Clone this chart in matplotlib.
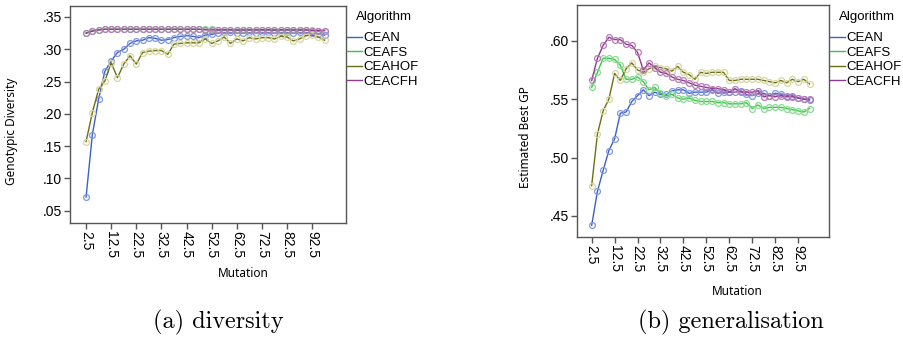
import numpy as np
import matplotlib
matplotlib.use("Agg")
import matplotlib.pyplot as plt

mutation = np.arange(2.5, 100, 2.5)  # 2.5 ... 97.5
algorithms = ["CEAN", "CEAFS", "CEAHOF", "CEACFH"]

# (a) genotypic diversity
div_cean = [.071, .168, .223, .266, .282, .295, .300, .309, .313, .314,
            .318, .317, .314, .315, .318, .320, .321, .320, .318, .322,
            .323, .325, .326, .326, .325, .325, .326, .325, .326, .326,
            .325, .326, .326, .325, .326, .326, .325, .324, .322]
div_ceafs = [.325, .329, .330, .331, .331, .331, .331, .331, .331, .331,
             .331, .331, .331, .331, .331, .331, .331, .331, .331, .331,
             .331, .330, .330, .330, .330, .330, .330, .330, .330, .330,
             .330, .330, .330, .330, .330, .330, .330, .329, .329]
div_ceahof = [.157, .202, .238, .251, .279, .256, .277, .290, .277, .295,
              .297, .298, .298, .292, .308, .309, .310, .310, .310, .316,
              .309, .313, .319, .309, .316, .313, .318, .316, .318, .318,
              .316, .320, .319, .313, .316, .321, .322, .319, .314]
div_ceacfh = [.325, .328, .330, .331, .331, .331, .331, .331, .331, .331,
              .331, .331, .331, .331, .331, .331, .331, .331, .331, .330,
              .330, .330, .330, .330, .330, .330, .330, .330, .330, .330,
              .330, .330, .330, .330, .330, .330, .329, .329, .329]

# (b) estimated best generalisation performance
gen_cean = [.442, .471, .489, .506, .516, .538, .539, .548, .553, .558,
            .553, .556, .554, .554, .557, .558, .558, .555, .556, .556,
            .556, .558, .555, .556, .556, .556, .557, .554, .553, .555,
            .555, .553, .555, .554, .553, .553, .551, .550, .549]
gen_ceafs = [.560, .573, .585, .585, .584, .579, .567, .567, .569, .565,
             .558, .560, .555, .553, .554, .551, .550, .551, .549, .548,
             .548, .548, .547, .547, .546, .546, .546, .547, .542, .545,
             .542, .543, .543, .543, .542, .541, .540, .539, .542]
gen_ceahof = [.476, .520, .540, .550, .572, .566, .576, .581, .575, .573,
              .576, .578, .577, .576, .574, .578, .573, .571, .567, .573,
              .572, .573, .573, .573, .566, .566, .567, .567, .567, .567,
              .566, .565, .564, .566, .564, .567, .565, .567, .563]
gen_ceacfh = [.566, .585, .596, .603, .601, .601, .597, .596, .590, .575,
              .581, .577, .573, .572, .569, .567, .566, .564, .562, .561,
              .560, .559, .559, .558, .556, .559, .556, .556, .556, .557,
              .552, .553, .552, .553, .552, .552, .551, .550, .550]

line_colors = ["#3f5fc8", "#3cc34c", "#6f6f18", "#8d3b8d"]
marker_colors = ["#7f97e0", "#86dc8e", "#d6d6a0", "#b77ab7"]

xticks = np.arange(2.5, 95, 10)

fig = plt.figure(figsize=(9.04, 3.49), dpi=100)
W, H = 904, 349


def panel(rect, series, ylim, yticks, ylabel, label_xy, legend_x):
    l, t, r, b = rect
    ax = fig.add_axes([l / W, 1 - b / H, (r - l) / W, (b - t) / H])
    for name, ys, lc, mc in zip(algorithms, series, line_colors, marker_colors):
        ax.plot(mutation, ys, color=lc, lw=1.0, marker="o", ms=4.2,
                mfc="none", mec=mc, mew=0.9, label=name)
    ax.set_xlim(-3.9, 106)
    ax.set_ylim(*ylim)
    ax.set_yticks(yticks)
    ax.set_yticklabels([f"{v:.2f}".lstrip("0") for v in yticks],
                       fontsize=10, family="Liberation Sans")
    ax.set_xticks(xticks)
    ax.set_xticklabels([f"{v:.1f}" for v in xticks], rotation=270,
                       fontsize=10, family="Liberation Sans")
    ax.tick_params(length=4, width=1, color="#555555", pad=2)
    for s in ax.spines.values():
        s.set_color("#555555")
        s.set_linewidth(1.0)
    ax.set_xlabel("Mutation", fontsize=8.5, family="Noto Sans")
    ax.xaxis.set_label_coords(*label_xy[0])
    ax.set_ylabel(ylabel, fontsize=8.5, family="Noto Sans")
    ax.yaxis.set_label_coords(*label_xy[1])
    leg = ax.legend(handles=ax.lines, labels=algorithms, loc="upper left",
                    bbox_to_anchor=(legend_x / W, 1 - 32 / H),
                    bbox_transform=fig.transFigure, frameon=False,
                    borderpad=0, borderaxespad=0, handlelength=1.15,
                    handletextpad=0.1, labelspacing=0.17,
                    prop={"family": "Liberation Sans", "size": 9.5})
    for h in leg.legend_handles:
        h.set_marker("")
    fig.text((legend_x + 9) / W, 1 - 17 / H, "Algorithm", ha="left",
             va="center", fontsize=9.5, family="Liberation Sans")
    return ax


panel((70, 6, 346, 223),
      [div_cean, div_ceafs, div_ceahof, div_ceacfh],
      (0.031, 0.367), np.arange(0.05, 0.36, 0.05),
      "Genotypic Diversity", ((0.627, -0.205), (-0.19, 0.424)), 347)
panel((577, 5, 829, 237),
      [gen_cean, gen_ceafs, gen_ceahof, gen_ceacfh],
      (0.432, 0.6306), np.arange(0.45, 0.61, 0.05),
      "Estimated Best GP", ((0.635, -0.205), (-0.18, 0.431)), 830)

fig.text(218 / W, 1 - 322 / H, "(a) diversity", ha="center", va="center",
         fontsize=17.5, family="cmr10")
fig.text(731 / W, 1 - 322 / H, "(b) generalisation", ha="center", va="center",
         fontsize=17.5, family="cmr10")

fig.savefig("out.png", dpi=100)
